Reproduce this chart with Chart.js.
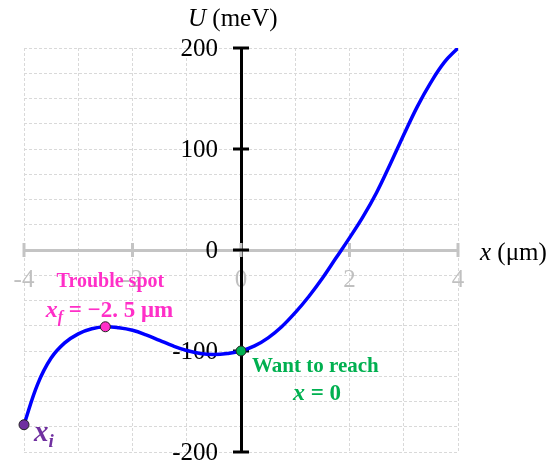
<!DOCTYPE html>
<html>
<head>
<meta charset="utf-8">
<script src="https://cdn.jsdelivr.net/npm/chart.js@4.4.1/dist/chart.umd.min.js"></script>
<style>
  html, body { margin: 0; padding: 0; background: #fff; }
  #wrap { width: 560px; height: 462px; }
</style>
</head>
<body>
<div id="wrap"><canvas id="potentialChart" width="560" height="462"></canvas></div>
<script>
// potential energy U(x), sampled every 0.25 um
const xPositions = [-4, -3.75, -3.5, -3.25, -3, -2.75, -2.5, -2.25, -2, -1.75, -1.5, -1.25, -1, -0.75, -0.5, -0.25,
                    0, 0.25, 0.5, 0.75, 1, 1.25, 1.5, 1.75, 2, 2.25, 2.5, 2.75, 3, 3.25, 3.5, 3.75, 4];
const potential = [-173, -133, -107, -92, -83, -78, -76, -77, -79.5, -84, -89.5, -95, -99.5, -102.5, -103.5, -102.5,
                   -100, -95, -87, -76, -62, -46, -28, -8, 12, 33, 57, 85, 114, 142, 166, 186, 200];

// marked positions: start, trouble spot, target
const markedX = [-4, -2.5, 0];
const markedColors = ['#7030a0', '#ff2fc8', '#00b050'];

const xTickValues = [-4, -2, 0, 2, 4];
const yTickValues = [-200, -100, 0, 100, 200];

const SERIF = '"Liberation Serif", "Times New Roman", serif';
const MAGENTA = '#ff2fc8';
const GREEN = '#00b050';
const PURPLE = '#7030a0';

function noPadding(scale) {
    scale.paddingLeft = 0;
    scale.paddingRight = 0;
    scale.paddingTop = 0;
    scale.paddingBottom = 0;
}

// draws a row of text runs [text, font, dy] starting at x
function drawRuns(ctx, runs, x, y, color, align) {
    let total = 0;
    runs.forEach(r => { ctx.font = r[1]; total += ctx.measureText(r[0]).width; });
    let cx = align === 'center' ? x - total / 2 : x;
    ctx.fillStyle = color;
    ctx.textAlign = 'left';
    ctx.textBaseline = 'alphabetic';
    runs.forEach(r => {
        ctx.font = r[1];
        ctx.fillText(r[0], cx, y + (r[2] || 0));
        cx += ctx.measureText(r[0]).width;
    });
}

const axisDecor = {
    id: 'axisDecor',
    beforeDatasetsDraw(chart) {
        const {ctx, scales: {x, y}} = chart;
        const x0 = x.getPixelForValue(0);
        const y0 = y.getPixelForValue(0);
        ctx.save();
        ctx.lineWidth = 3;
        ctx.strokeStyle = '#c4c4c4';
        xTickValues.forEach(v => {
            const px = x.getPixelForValue(v);
            ctx.beginPath();
            ctx.moveTo(px, y0 - 7);
            ctx.lineTo(px, y0 + 7);
            ctx.stroke();
        });
        ctx.strokeStyle = '#000';
        ctx.fillStyle = '#000';
        ctx.font = '25px ' + SERIF;
        ctx.textAlign = 'right';
        ctx.textBaseline = 'middle';
        yTickValues.forEach(v => {
            const py = y.getPixelForValue(v);
            ctx.beginPath();
            ctx.moveTo(x0 - 8, py);
            ctx.lineTo(x0 + 8, py);
            ctx.stroke();
            ctx.fillText(String(v), x0 - 23, py + 1);
        });

        // axis titles
        drawRuns(ctx, [['U', 'italic 25px ' + SERIF], [' (meV)', '25px ' + SERIF]], x0 - 53, 26, '#000', 'left');
        drawRuns(ctx, [['x', 'italic 25px ' + SERIF], [' (\u03bcm)', '25px ' + SERIF]], chart.chartArea.right + 22, y0 + 10, '#000', 'left');
        ctx.restore();
    },
    afterDatasetsDraw(chart) {
        const {ctx, scales: {x, y}} = chart;
        const pts = markedX.map(v => ({
            px: x.getPixelForValue(v),
            py: y.getPixelForValue(potential[xPositions.indexOf(v)])
        }));
        ctx.save();
        // start point
        drawRuns(ctx, [['x', 'bold italic 29px ' + SERIF], ['i', 'bold italic 19px ' + SERIF, 6]],
                 pts[0].px + 10, pts[0].py + 16, PURPLE, 'left');
        // trouble spot
        drawRuns(ctx, [['Trouble spot', 'bold 20px ' + SERIF]], pts[1].px + 5, pts[1].py - 40, MAGENTA, 'center');
        drawRuns(ctx, [['x', 'bold italic 24px ' + SERIF], ['f', 'bold italic 16px ' + SERIF, 5],
                       [' = \u22122. 5 \u03bcm', 'bold 23px ' + SERIF]], pts[1].px + 4, pts[1].py - 10, MAGENTA, 'center');
        // target
        drawRuns(ctx, [['Want to reach', 'bold 21px ' + SERIF]], pts[2].px + 11, pts[2].py + 21, GREEN, 'left');
        drawRuns(ctx, [['x', 'bold italic 24px ' + SERIF], [' = 0', 'bold 23px ' + SERIF]], pts[2].px + 76, pts[2].py + 49, GREEN, 'center');
        ctx.restore();
    }
};

const tickFont = { family: SERIF, size: 25 };

new Chart(document.getElementById('potentialChart'), {
    type: 'scatter',
    data: {
        datasets: [{
            label: 'U(x)',
            data: xPositions.map((v, i) => ({ x: v, y: potential[i] })),
            showLine: true,
            borderColor: '#0000ff',
            borderWidth: 3.5,
            pointRadius: 0,
            tension: 0.4,
            order: 2
        }, {
            label: 'marked',
            data: markedX.map(v => ({ x: v, y: potential[xPositions.indexOf(v)] })),
            showLine: false,
            pointRadius: 5,
            pointBackgroundColor: markedColors,
            pointBorderColor: '#222',
            pointBorderWidth: 1,
            clip: false,
            order: 1
        }]
    },
    options: {
        responsive: false,
        animation: false,
        devicePixelRatio: 1,
        layout: { padding: { left: 24, right: 102, top: 48, bottom: 10 } },
        plugins: { legend: { display: false }, tooltip: { enabled: false } },
        scales: {
            x: {
                type: 'linear',
                min: -4,
                max: 4,
                position: { y: 0 },
                afterFit: noPadding,
                grid: { color: '#d9d9d9', lineWidth: 1, drawTicks: false },
                border: { color: '#c4c4c4', width: 3, dash: [3, 2] },
                ticks: {
                    stepSize: 1,
                    autoSkip: false,
                    maxRotation: 0,
                    padding: 15,
                    color: '#c0c0c0',
                    font: tickFont,
                    callback: v => xTickValues.includes(v) ? String(v) : ''
                }
            },
            y: {
                type: 'linear',
                min: -200,
                max: 200,
                position: { x: 0 },
                afterFit: noPadding,
                grid: { color: '#d9d9d9', lineWidth: 1, drawTicks: false },
                border: { color: '#000', width: 3, dash: [3, 2] },
                ticks: {
                    stepSize: 25,
                    autoSkip: false,
                    display: false
                }
            }
        }
    },
    plugins: [axisDecor]
});
</script>
</body>
</html>
